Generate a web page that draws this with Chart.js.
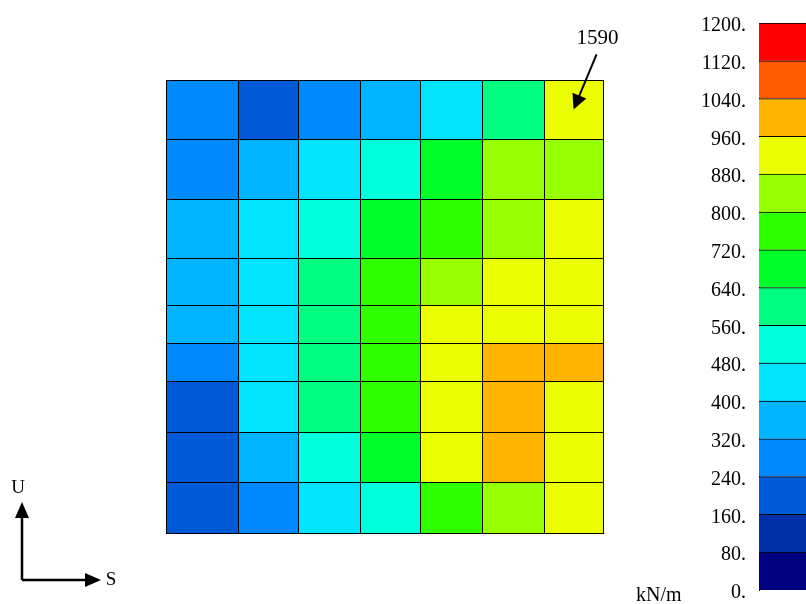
<!DOCTYPE html>
<html><head><meta charset="utf-8">
<script src="https://cdn.jsdelivr.net/npm/chart.js@4/dist/chart.umd.min.js"></script>
<style>
html,body{margin:0;padding:0;background:#fff;overflow:hidden;width:806px;height:604px}
#main{position:absolute;left:0;top:0}
#bar{position:absolute;left:690px;top:0}
</style></head><body>
<canvas id="main" width="806" height="604"></canvas>
<canvas id="bar" width="150" height="604"></canvas>
<script>
// ---- data ----
// mesh column edges (mm, left to right) and row edges (mm, top to bottom)
const colEdges = [0, 1200, 2200, 3230, 4230, 5270, 6300, 7280];
const rowEdges = [7550, 6570, 5570, 4580, 3800, 3170, 2530, 1680, 850, 0];
// cell values, kN/m, rows top to bottom, columns left to right
const row1 = [290, 215, 300, 365, 450, 610, 935];
const row2 = [295, 370, 455, 530, 690, 850, 845];
const row3 = [360, 445, 525, 700, 770, 855, 905];
const row4 = [355, 440, 600, 760, 845, 915, 925];
const row5 = [350, 430, 595, 765, 905, 930, 920];
const row6 = [300, 425, 590, 770, 915, 985, 980];
const row7 = [220, 420, 595, 775, 920, 1010, 940];
const row8 = [210, 380, 530, 690, 910, 1000, 935];
const row9 = [200, 305, 455, 535, 780, 850, 925];
const cellRows = [row1, row2, row3, row4, row5, row6, row7, row8, row9];
// contour levels and their colours
const levelTicks = [0, 80, 160, 240, 320, 400, 480, 560, 640, 720, 800, 880, 960, 1040, 1120, 1200];
const levelColors = ['#000080', '#0030A8', '#005AD8', '#0088FF', '#00B4FF', '#00E4FF', '#00FFDC',
  '#00FF80', '#00FF28', '#30FF00', '#96FF00', '#EBFF00', '#FFB400', '#FF5A00', '#FF0000'];
const peakLabel = '1590';
const peakCell = {r: 0, c: 6};
const unitLabel = 'kN/m';
const axisLabels = ['U', 'S'];

const FONT = '"Liberation Serif", "DejaVu Serif", serif';

function colorFor(v) {
  let i = 0;
  while (i < levelColors.length - 1 && v >= levelTicks[i + 1]) i++;
  return levelColors[i];
}

const points = [];
cellRows.forEach((row, r) => row.forEach((v, c) => {
  points.push({x: (colEdges[c] + colEdges[c + 1]) / 2, y: (rowEdges[r] + rowEdges[r + 1]) / 2, v, r, c});
}));

function arrowHead(ctx, tx, ty, ang, len, half) {
  ctx.beginPath();
  ctx.moveTo(tx, ty);
  ctx.lineTo(tx - len * Math.cos(ang) + half * Math.sin(ang), ty - len * Math.sin(ang) - half * Math.cos(ang));
  ctx.lineTo(tx - len * Math.cos(ang) - half * Math.sin(ang), ty - len * Math.sin(ang) + half * Math.cos(ang));
  ctx.closePath();
  ctx.fill();
}

const heatmapPlugin = {
  id: 'heatmap',
  beforeDatasetsDraw(chart) {
    const {ctx, scales: {x, y}} = chart;
    const pts = chart.data.datasets[0].data;
    const rect = p => {
      const x0 = Math.round(x.getPixelForValue(colEdges[p.c]));
      const x1 = Math.round(x.getPixelForValue(colEdges[p.c + 1]));
      const y0 = Math.round(y.getPixelForValue(rowEdges[p.r]));
      const y1 = Math.round(y.getPixelForValue(rowEdges[p.r + 1]));
      return [x0, y0, x1 - x0, y1 - y0];
    };
    ctx.save();
    pts.forEach(p => {
      const [a, b, w, h] = rect(p);
      ctx.fillStyle = colorFor(p.v);
      ctx.fillRect(a, b, w, h);
    });
    ctx.strokeStyle = '#000';
    ctx.lineWidth = 1;
    pts.forEach(p => {
      const [a, b, w, h] = rect(p);
      ctx.strokeRect(a + 0.5, b + 0.5, w, h);
    });
    ctx.restore();
  },
  afterDatasetsDraw(chart) {
    const {ctx, scales: {x, y}} = chart;
    ctx.save();
    // peak annotation
    const tx = x.getPixelForValue((colEdges[peakCell.c] + colEdges[peakCell.c + 1]) / 2);
    const ty = y.getPixelForValue((rowEdges[peakCell.r] + rowEdges[peakCell.r + 1]) / 2);
    const sx = tx + 23, sy = ty - 55;
    const ang = Math.atan2(ty - sy, tx - sx);
    ctx.strokeStyle = '#000'; ctx.fillStyle = '#000'; ctx.lineWidth = 2;
    ctx.beginPath(); ctx.moveTo(sx, sy); ctx.lineTo(tx - 10 * Math.cos(ang), ty - 10 * Math.sin(ang)); ctx.stroke();
    arrowHead(ctx, tx, ty, ang, 15, 7.5);
    ctx.font = '21px ' + FONT;
    ctx.textAlign = 'center'; ctx.textBaseline = 'middle';
    ctx.fillText(peakLabel, sx + 1, sy - 16);
    // unit label
    ctx.font = '20px ' + FONT;
    ctx.textAlign = 'left';
    ctx.fillText(unitLabel, 636, 596);
    // axis indicator
    const ox = 22, oy = 580;
    ctx.lineWidth = 2.5;
    ctx.beginPath(); ctx.moveTo(ox, oy); ctx.lineTo(ox, 515); ctx.stroke();
    ctx.beginPath(); ctx.moveTo(ox, oy); ctx.lineTo(88, oy); ctx.stroke();
    arrowHead(ctx, ox, 502, -Math.PI / 2, 16, 7);
    arrowHead(ctx, 101, oy, 0, 16, 7);
    ctx.font = '19px ' + FONT;
    ctx.textAlign = 'center';
    ctx.fillText(axisLabels[0], 18, 488);
    ctx.fillText(axisLabels[1], 111, 580);
    ctx.restore();
  }
};

new Chart(document.getElementById('main'), {
  type: 'scatter',
  data: {datasets: [{data: points, pointRadius: 0, pointHoverRadius: 0}]},
  options: {
    responsive: false, animation: false, events: [],
    layout: {padding: {left: 166, right: 203, top: 80, bottom: 71}},
    plugins: {legend: {display: false}, tooltip: {enabled: false}},
    scales: {
      x: {type: 'linear', display: false, min: colEdges[0], max: colEdges[colEdges.length - 1]},
      y: {type: 'linear', display: false, min: rowEdges[rowEdges.length - 1], max: rowEdges[0]}
    }
  },
  plugins: [heatmapPlugin]
});

new Chart(document.getElementById('bar'), {
  type: 'bar',
  data: {
    labels: [''],
    datasets: levelColors.map((c, i) => ({
      data: [levelTicks[i + 1] - levelTicks[i]],
      backgroundColor: c, borderColor: '#000',
      borderWidth: {top: 1, bottom: 0, left: 0, right: 0}, borderSkipped: false,
      barPercentage: 1, categoryPercentage: 1
    }))
  },
  options: {
    responsive: false, animation: false, events: [],
    layout: {padding: {top: 23, bottom: 14, left: 0, right: 0}},
    plugins: {legend: {display: false}, tooltip: {enabled: false}},
    scales: {
      x: {display: false, stacked: true},
      y: {
        stacked: true, min: levelTicks[0], max: levelTicks[levelTicks.length - 1],
        afterFit(s) { s.width = 69; s.paddingTop = 0; s.paddingBottom = 0; },
        afterBuildTicks(s) { s.ticks = levelTicks.map(v => ({value: v})); },
        grid: {display: false, drawTicks: false},
        border: {display: true, color: '#000', width: 1},
        ticks: {autoSkip: false, padding: 13, labelOffset: 3, color: '#000', font: {family: FONT, size: 20},
          callback: v => v + '.'}
      }
    }
  }
});
</script>
</body></html>
